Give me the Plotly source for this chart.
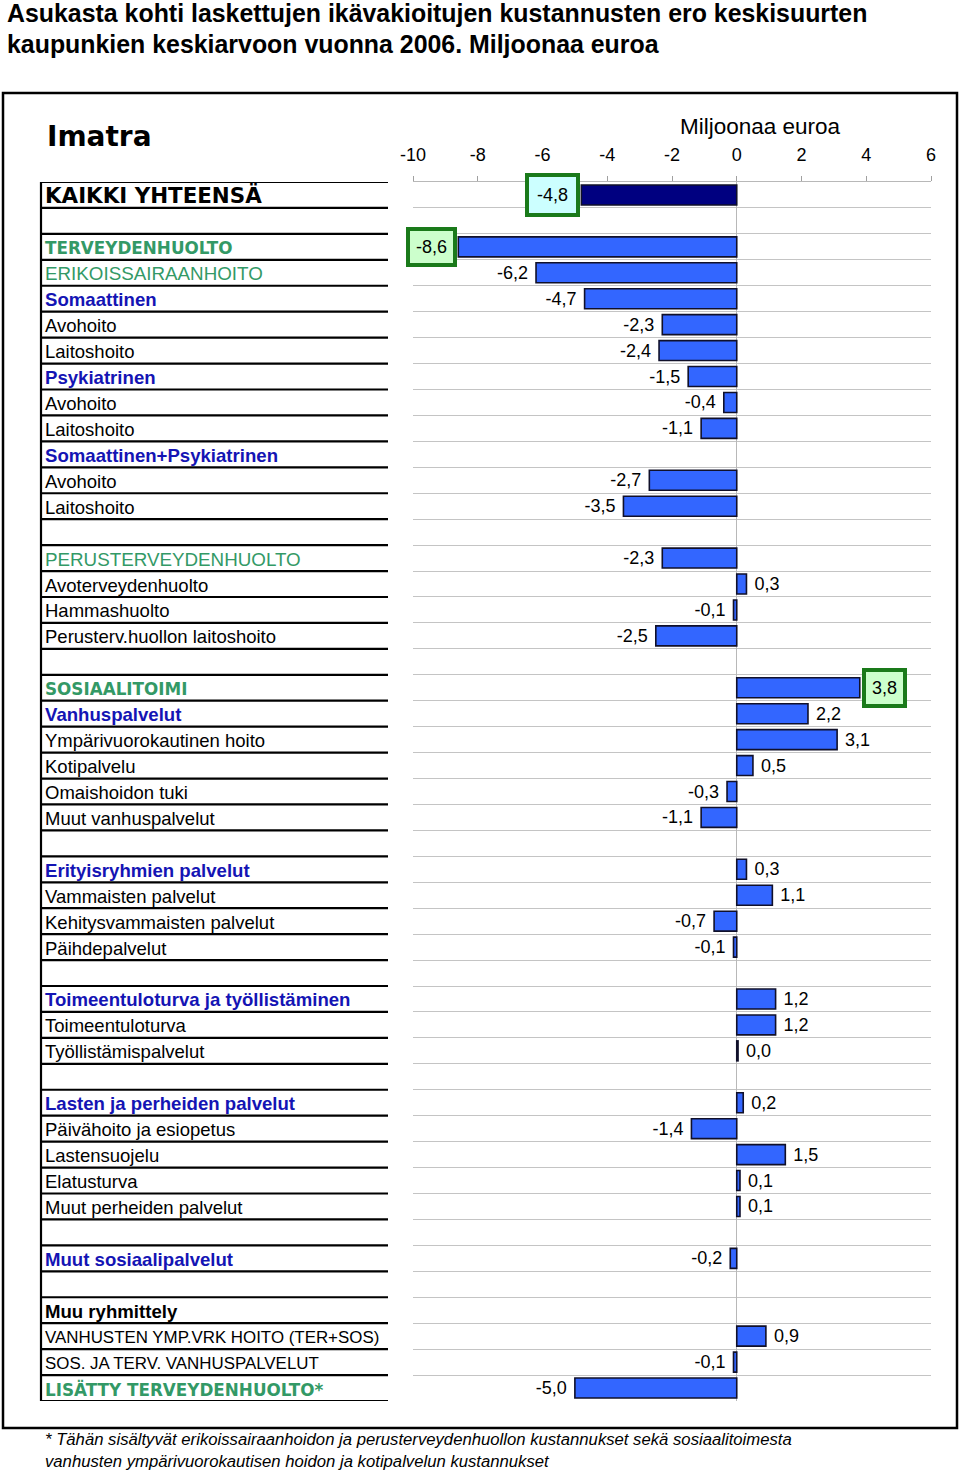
import plotly.graph_objects as go

# ---------------- data ----------------
row_labels = [
    "KAIKKI YHTEENSÄ", "",
    "TERVEYDENHUOLTO", "ERIKOISSAIRAANHOITO", "Somaattinen", "Avohoito", "Laitoshoito",
    "Psykiatrinen", "Avohoito", "Laitoshoito", "Somaattinen+Psykiatrinen", "Avohoito", "Laitoshoito",
    "",
    "PERUSTERVEYDENHUOLTO", "Avoterveydenhuolto", "Hammashuolto", "Perusterv.huollon laitoshoito",
    "",
    "SOSIAALITOIMI", "Vanhuspalvelut", "Ympärivuorokautinen hoito", "Kotipalvelu",
    "Omaishoidon tuki", "Muut vanhuspalvelut",
    "",
    "Erityisryhmien palvelut", "Vammaisten palvelut", "Kehitysvammaisten palvelut", "Päihdepalvelut",
    "",
    "Toimeentuloturva ja työllistäminen", "Toimeentuloturva", "Työllistämispalvelut",
    "",
    "Lasten ja perheiden palvelut", "Päivähoito ja esiopetus", "Lastensuojelu", "Elatusturva",
    "Muut perheiden palvelut",
    "",
    "Muut sosiaalipalvelut",
    "",
    "Muu ryhmittely", "VANHUSTEN YMP.VRK HOITO (TER+SOS)", "SOS. JA TERV. VANHUSPALVELUT",
    "LISÄTTY TERVEYDENHUOLTO*",
]

values = [
    -4.8, None,
    -8.6, -6.2, -4.7, -2.3, -2.4,
    -1.5, -0.4, -1.1, None, -2.7, -3.5,
    None,
    -2.3, 0.3, -0.1, -2.5,
    None,
    3.8, 2.2, 3.1, 0.5, -0.3, -1.1,
    None,
    0.3, 1.1, -0.7, -0.1,
    None,
    1.2, 1.2, 0.04,
    None,
    0.2, -1.4, 1.5, 0.1, 0.1,
    None,
    -0.2,
    None,
    None, 0.9, -0.1, -5.0,
]

tick_values = [-10, -8, -6, -4, -2, 0, 2, 4, 6]
boxed_rows = [0, 2, 19]

title_lines = ["Asukasta kohti laskettujen ikävakioitujen kustannusten ero keskisuurten",
               "kaupunkien keskiarvoon vuonna 2006. Miljoonaa euroa"]
city = "Imatra"
axis_title = "Miljoonaa euroa"
footnote_lines = ["* Tähän sisältyvät erikoissairaanhoidon ja perusterveydenhuollon kustannukset sekä sosiaalitoimesta",
                  "vanhusten ympärivuorokautisen hoidon ja kotipalvelun kustannukset"]

# ---------------- styles ----------------
row_styles = [
    "hblack", "",
    "hgreen", "green", "blue", "n", "n",
    "blue", "n", "n", "blue", "n", "n",
    "",
    "green", "n", "n", "n",
    "",
    "hgreen", "blue", "n", "n", "n", "n",
    "",
    "blue", "n", "n", "n",
    "",
    "blue", "n", "n",
    "",
    "blue", "n", "n", "n", "n",
    "",
    "blue",
    "",
    "bold", "small", "small", "hgreen",
]
GREEN = "#339966"
BLUE = "#1414B4"
ARIAL = "Liberation Sans, Arial, sans-serif"
HEAVY = "DejaVu Sans, sans-serif"
style_map = {
    "hblack": dict(family=HEAVY, size=21.4, color="black", bold=True),
    "hgreen": dict(family=HEAVY, size=16.8, color=GREEN, bold=True),
    "green": dict(family=ARIAL, size=18.8, color=GREEN, bold=False),
    "blue": dict(family=ARIAL, size=18.6, color=BLUE, bold=True),
    "n": dict(family=ARIAL, size=18.5, color="black", bold=False),
    "bold": dict(family=ARIAL, size=18.6, color="black", bold=True),
    "small": dict(family=ARIAL, size=16.9, color="black", bold=False),
}
box_styles = {0: dict(bg="#CCFFFF", xshift=-1, pad=8),
              2: dict(bg="#CCFFCC", xshift=-1, pad=6),
              19: dict(bg="#CCFFCC", xshift=2, pad=6)}

W, H = 960, 1470
ROW_TOP, ROW_BOTTOM = 182, 1401
PLOT_L, PLOT_R = 413, 931
NB = "\u00a0"


def fx(x):
    return x / W


def fy(y):
    return 1 - y / H


def fmt(v):
    return f"{v:.1f}".replace(".", ",")


def bar_label(v):
    return fmt(v) + NB if v < 0 else NB + fmt(v)


n = len(row_labels)
bar_rows = [i for i, v in enumerate(values) if v is not None]
bar_vals = [values[i] for i in bar_rows]
bar_text = ["" if i in boxed_rows else bar_label(values[i]) for i in bar_rows]
bar_colors = ["#000080" if i == 0 else "#3366FF" for i in bar_rows]

fig = go.Figure()
fig.add_trace(go.Bar(
    y=bar_rows, x=bar_vals, orientation="h", width=0.77,
    marker=dict(color=bar_colors, line=dict(color="#10102A", width=1.6)),
    text=bar_text, textposition="outside", constraintext="none",
    textfont=dict(family=ARIAL, size=18, color="black"),
    cliponaxis=False, hoverinfo="skip", showlegend=False,
))

annotations = []
# boxed value labels
for r in boxed_rows:
    v = values[r]
    s = box_styles[r]
    annotations.append(dict(
        x=v, y=r, xref="x", yref="y", text=fmt(v), showarrow=False,
        xanchor="right" if v < 0 else "left", xshift=s["xshift"],
        font=dict(family=ARIAL, size=18, color="black"),
        bgcolor=s["bg"], bordercolor="#1A7A1A", borderwidth=4, borderpad=s["pad"],
    ))

# row labels
for i, (lab, st) in enumerate(zip(row_labels, row_styles)):
    if not lab:
        continue
    f = style_map[st]
    txt = f"<b>{lab}</b>" if f["bold"] else lab
    annotations.append(dict(
        x=fx(43), y=i, xref="paper", yref="y", text=txt, showarrow=False,
        xanchor="left", yanchor="middle", yshift=-1,
        font=dict(family=f["family"], size=f["size"], color=f["color"]),
    ))

# titles
for k, line in enumerate(title_lines):
    annotations.append(dict(
        x=fx(5), y=fy(13 + 31 * k), xref="paper", yref="paper", text=f"<b>{line}</b>",
        showarrow=False, xanchor="left", yanchor="middle",
        font=dict(family=ARIAL, size=24.9, color="black"),
    ))
annotations.append(dict(
    x=fx(45), y=fy(137), xref="paper", yref="paper", text=f"<b>{city}</b>", showarrow=False,
    xanchor="left", yanchor="middle", font=dict(family=HEAVY, size=28, color="black"),
))
annotations.append(dict(
    x=fx(760), y=fy(126), xref="paper", yref="paper", text=axis_title, showarrow=False,
    xanchor="center", yanchor="middle", font=dict(family=ARIAL, size=22.5, color="black"),
))
for k, line in enumerate(footnote_lines):
    annotations.append(dict(
        x=fx(43), y=fy(1439 + 22 * k), xref="paper", yref="paper", text=f"<i>{line}</i>",
        showarrow=False, xanchor="left", yanchor="middle",
        font=dict(family=ARIAL, size=16.7, color="black"),
    ))

shapes = []
# outer frame
shapes.append(dict(type="rect", xref="paper", yref="paper", x0=fx(3), x1=fx(957),
                   y0=fy(1428), y1=fy(93), line=dict(color="black", width=2.5)))
# label table lines
for i in range(n + 1):
    shapes.append(dict(type="line", xref="paper", yref="y", x0=fx(41), x1=fx(388),
                       y0=i - 0.5, y1=i - 0.5, line=dict(color="black", width=2.2)))
shapes.append(dict(type="line", xref="paper", yref="y", x0=fx(41), x1=fx(41),
                   y0=-0.5, y1=n - 0.5, line=dict(color="black", width=2.2)))

fig.update_layout(
    width=W, height=H, autosize=False,
    margin=dict(l=0, r=0, t=0, b=0, pad=0, autoexpand=False),
    paper_bgcolor="white", plot_bgcolor="white",
    bargap=0.2, showlegend=False,
    annotations=annotations, shapes=shapes,
    xaxis=dict(
        domain=[fx(PLOT_L), fx(PLOT_R)], range=[-10, 6], side="top",
        tickvals=tick_values, ticktext=[str(t) for t in tick_values],
        ticks="outside", ticklen=5, tickcolor="#A0A0A0",
        tickfont=dict(family=ARIAL, size=18, color="black"),
        ticklabelstandoff=8, automargin=False,
        showline=True, linecolor="#B8B8B8", linewidth=1,
        showgrid=False, zeroline=True, zerolinecolor="#B8B8B8", zerolinewidth=1,
        fixedrange=True,
    ),
    yaxis=dict(
        domain=[fy(ROW_BOTTOM), fy(ROW_TOP)], range=[n - 0.5, -0.5],
        tickvals=[i - 0.5 for i in range(n + 1)], showticklabels=False, ticks="",
        showgrid=True, gridcolor="#C4C4C4", gridwidth=1, zeroline=False,
        showline=False, fixedrange=True, automargin=False,
    ),
)

fig.write_html("out.html", config={"responsive": False, "displayModeBar": False},
               post_script="document.body.style.margin='0';document.body.style.overflow='hidden';")
